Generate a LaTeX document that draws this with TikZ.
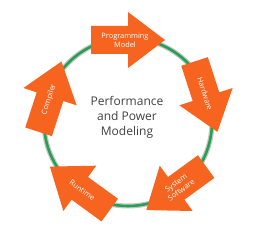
\documentclass[tikz,border=0pt]{standalone}
\usepackage{fontspec}
\setmainfont{Open Sans}
\usetikzlibrary{calc}
\definecolor{arroworange}{RGB}{247,100,32}
\definecolor{ringgreen}{RGB}{40,160,84}
\definecolor{centergray}{RGB}{64,64,64}
\begin{document}
\begin{tikzpicture}[x=1pt,y=1pt,
  cyclearrow/.style={fill=arroworange,draw=none},
  arrowlabel/.style={text=white,font=\fontsize{7.4}{8.8}\selectfont,align=center,inner sep=0pt},
  centerlabel/.style={text=centergray,font=\fontsize{12}{15}\selectfont,align=center,inner sep=0pt}]
\useasboundingbox (0,0) rectangle (256,233);
\coordinate (c) at (128,111);
% ring with soft shadow
\draw[line width=5pt,gray!45] (c) circle[radius=84];
\draw[line width=2.6pt,ringgreen] (c) circle[radius=84];
% arrows
\foreach \a/\lab/\tr/\nm in {90/{Programming\\Model}/0/pm, 18/Hardware/-72/hw, -54/{System\\Software}/36/ss, -126/Runtime/-36/rt, 162/Compiler/72/co}{
  \begin{scope}[shift={($(c)+(\a:82)$)},rotate=\a-90]
    \path[cyclearrow] (-37,-14) -- (0,-14) -- (0,-28) -- (37,0) -- (0,28) -- (0,14) -- (-37,14) -- cycle;
    \coordinate (lab\nm) at (-3,0);
  \end{scope}
  \node[arrowlabel,rotate=\tr] (\nm) at (lab\nm) {\lab};
}
\node[centerlabel] (title) at (127,116) {Performance\\and Power\\Modeling};
\end{tikzpicture}
\end{document}
